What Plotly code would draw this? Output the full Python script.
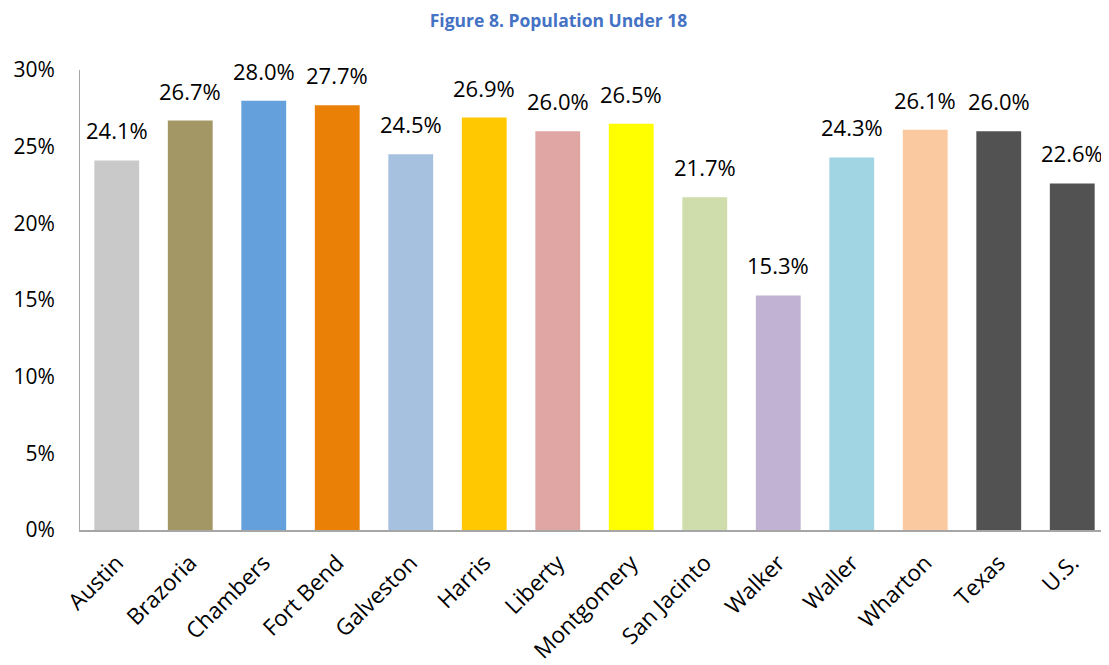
import plotly.graph_objects as go

categories = ["Austin", "Brazoria", "Chambers", "Fort Bend", "Galveston", "Harris", "Liberty",
              "Montgomery", "San Jacinto", "Walker", "Waller", "Wharton", "Texas", "U.S."]
values = [24.1, 26.7, 28.0, 27.7, 24.5, 26.9, 26.0, 26.5, 21.7, 15.3, 24.3, 26.1, 26.0, 22.6]
colors = ["#C9C9C9", "#A39865", "#64A0DC", "#EA8006", "#A6C1E0", "#FFC800", "#E0A6A4",
          "#FFFF00", "#CEDDAB", "#C1B1D3", "#A2D5E3", "#FBC9A0", "#525252", "#525252"]
y_ticks = [0, 5, 10, 15, 20, 25, 30]
y_tick_labels = ["0%", "5%", "10%", "15%", "20%", "25%", "30%"]

FONT = "Open Sans, Liberation Sans, sans-serif"

fig = go.Figure(go.Bar(
    x=categories, y=values, marker=dict(color=colors, line=dict(width=0)),
    hoverinfo="skip",
))

for c, v in zip(categories, values):
    fig.add_annotation(x=c, y=v, text=f"{v:.1f}%", showarrow=False,
                       yanchor="bottom", yshift=13,
                       font=dict(family=FONT, size=22, color="#000000"))

# page body has an 8px margin, so the figure is 8px smaller and shifted
fig.update_layout(
    width=1101, height=657,
    margin=dict(l=72, r=0, t=62, b=135, autoexpand=False),
    paper_bgcolor="white", plot_bgcolor="white",
    bargap=0.39,
    showlegend=False,
    title=dict(text="<b>Figure 8. Population Under 18</b>", x=0.5, xanchor="center",
               y=0.981, yanchor="middle",
               font=dict(family=FONT, size=17.5, color="#4472C4")),
    xaxis=dict(showline=True, linecolor="#A6A6A6", linewidth=1.5, ticks="",
               tickangle=-45, tickfont=dict(family=FONT, size=22.5, color="#000000"),
               showgrid=False, automargin=False, ticklabelstandoff=9),
    yaxis=dict(range=[0, 30], tickvals=y_ticks, ticktext=y_tick_labels,
               showline=True, linecolor="#A6A6A6", linewidth=1, ticks="",
               showgrid=False, zeroline=False, automargin=False,
               ticklabelstandoff=20,
               tickfont=dict(family=FONT, size=21, color="#000000")),
)

fig.write_html("out.html")
